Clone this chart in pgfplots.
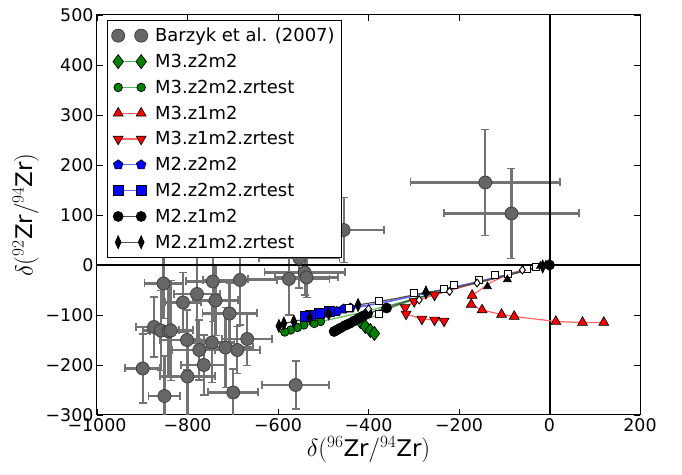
\documentclass[border=0pt]{standalone}
\usepackage{pgfplots}
\pgfplotsset{compat=1.18}
\usepackage{fontspec}
\setmainfont{DejaVu Sans}
\usetikzlibrary{plotmarks}
\definecolor{mgreen}{rgb}{0,0.5,0}
\definecolor{lgreen}{rgb}{0.35,0.72,0.35}
\definecolor{lred}{rgb}{1,0.4,0.4}
\definecolor{lblue}{rgb}{0.4,0.4,1}
\definecolor{mgrey}{rgb}{0.4,0.4,0.4}
\definecolor{ebgrey}{rgb}{0.45,0.45,0.45}

\pgfplotstableread{
x y ex ey
-455 70 90 65
-553 14 89 60
-541 -15 89 45
-537 -25 70 40
-576 -28 90 72
-853 -37 42 70
-744 -33 60 80
-684 -30 82 90
-779 -58 50 90
-810 -75 40 60
-738 -71 50 70
-707 -97 60 60
-874 -124 40 60
-859 -131 40 80
-842 -133 40 90
-837 -131 50 100
-801 -150 60 60
-774 -170 60 60
-746 -155 50 80
-716 -165 60 80
-690 -170 50 47
-668 -148 55 53
-764 -200 50 60
-899 -207 39 69
-800 -223 60 90
-851 -262 35 80
-699 -255 55 47
-561 -240 74 48
-142 165 165 106
-84 103 150 90
}\barzyk

\begin{document}
\begin{tikzpicture}
\begin{axis}[name=ax, scale only axis, width=543bp, height=400bp,
  xmin=-1000, xmax=200, ymin=-300, ymax=500,
  xtick={-1000,-800,...,200}, xticklabels={−1000,−800,−600,−400,−200,0,200},
  ytick={-300,-200,...,500}, yticklabels={−300,−200,−100,0,100,200,300,400,500},
  tick align=inside, tick pos=both, major tick length=6bp,
  tick style={black, line width=0.8bp},
  axis line style={line width=1bp},
  ticklabel style={font=\fontsize{17.5}{20}\selectfont},
  label style={font=\fontsize{23}{26}\selectfont},
  xlabel={$\delta(^{96}$Zr$/^{94}$Zr$)$},
  ylabel={$\delta(^{92}$Zr$/^{94}$Zr$)$},
  xlabel style={yshift=2bp},
  legend cell align=left,
  legend style={at={(0.018,0.987)}, anchor=north west, draw=black, line width=0.8bp,
    font=\fontsize{18}{21}\selectfont, inner xsep=4.5bp, inner ysep=5.5bp,
    row sep=7bp, nodes={inner sep=2bp},
    /tikz/every odd column/.append style={column sep=5.5bp}},
  legend image code/.code={\draw[mark indices={1,3}] plot coordinates {(0bp,0bp) (11.5bp,0bp) (23bp,0bp)};},
]
% Barzyk data
\addplot[only marks, mark=*, mark size=6.5bp,
  mark options={fill=mgrey, draw=black!75, line width=0.8bp},
  error bars/.cd, x dir=both, x explicit, y dir=both, y explicit,
  error bar style={ebgrey, line width=2.2bp},
  error mark options={rotate=90, ebgrey, line width=1.8bp, mark size=4bp}]
  table[x=x, y=y, x error=ex, y error=ey]{\barzyk};
\addlegendentry{Barzyk et al. (2007)}

% zero lines
\addplot[black, line width=2bp, forget plot] coordinates {(-1000,0) (200,0)};
\addplot[black, line width=2bp, forget plot] coordinates {(0,-300) (0,500)};

% M3.z2m2
\addplot[lgreen, line width=1.2bp, mark=diamond*, mark size=7bp,
  mark options={solid, fill=mgreen, draw=black, line width=0.7bp},
  mark indices={9,10,11,12}]
  coordinates {(0,0) (-5,-1) (-50,-11) (-120,-27) (-200,-45) (-280,-64) (-340,-82) (-380,-100) (-418,-113) (-407,-123) (-396,-131) (-387,-137)};
\addlegendentry{M3.z2m2}

% M3.z2m2.zrtest
\addplot[lgreen, line width=1.2bp, mark=*, mark size=4.3bp,
  mark options={solid, fill=mgreen, draw=black, line width=0.7bp},
  mark indices={8,9,10,11,12,13}]
  coordinates {(0,0) (-60,-13) (-150,-33) (-250,-55) (-350,-80) (-420,-96) (-470,-106) (-506,-113) (-520,-117) (-543,-120) (-557,-125) (-572,-130) (-585,-134)};
\addlegendentry{M3.z2m2.zrtest}

% M3.z1m2
\addplot[lred, line width=1.2bp, mark=triangle*, mark size=5.7bp,
  mark options={solid, fill=red, draw=black, line width=0.7bp},
  mark indices={6,7,8,9,10,11,12,13}]
  coordinates {(0,0) (-20,-3) (-50,-8) (-84,-16) (-130,-35) (-171,-61) (-173,-79) (-149,-90) (-106,-99) (-78,-103) (14,-113) (73,-115) (120,-115)};
\addlegendentry{M3.z1m2}

% M3.z1m2.zrtest
\addplot[lred, line width=1.2bp, mark=triangle*, mark size=5.7bp,
  mark options={solid, fill=red, draw=black, line width=0.7bp, rotate=180},
  mark indices={5,6,7,8,9,10,11}]
  coordinates {(0,0) (-40,-8) (-100,-22) (-170,-38) (-254,-60) (-299,-73) (-319,-85) (-317,-98) (-282,-108) (-254,-110) (-233,-112)};
\addlegendentry{M3.z1m2.zrtest}

% M2.z2m2
\addplot[lblue, line width=1.2bp, mark=pentagon*, mark size=5bp,
  mark options={solid, fill=blue, draw=black, line width=0.7bp},
  mark indices={8,9,10,11}]
  coordinates {(0,0) (-50,-10) (-120,-25) (-200,-42) (-280,-58) (-350,-72) (-400,-80) (-440,-86) (-455,-88) (-470,-93) (-490,-96)};
\addlegendentry{M2.z2m2}

% M2.z2m2.zrtest
\addplot[lblue, line width=1.2bp, mark=square*, mark size=5bp,
  mark options={solid, fill=blue, draw=black, line width=0.7bp},
  mark indices={7,8,9,10}]
  coordinates {(0,0) (-60,-12) (-150,-32) (-250,-52) (-350,-72) (-430,-86) (-487,-92) (-509,-97) (-528,-100) (-540,-102)};
\addlegendentry{M2.z2m2.zrtest}

% M2.z1m2
\addplot[black!70, line width=1.2bp, mark=*, mark size=5bp,
  mark options={solid, fill=black, draw=black, line width=0.7bp},
  mark indices={1,6,7,8,9,10,11,12,13,14,15}]
  coordinates {(0,0) (-30,-6) (-100,-22) (-200,-44) (-300,-68) (-360,-86) (-402,-97) (-412,-102) (-422,-107) (-432,-112) (-442,-117) (-452,-121) (-462,-126) (-470,-130) (-476,-133)};
\addlegendentry{M2.z1m2}

% M2.z1m2.zrtest
\addplot[black!70, line width=1.2bp, mark=diamond*, mark size=6.5bp,
  mark options={solid, fill=black, draw=black, line width=0.7bp, xscale=0.6},
  mark indices={1,2,6,8,9,10,11,12,13}]
  coordinates {(0,0) (-15,-3) (-60,-12) (-137,-30) (-220,-48) (-273,-55) (-345,-68) (-423,-80) (-488,-97) (-530,-106) (-565,-113) (-587,-117) (-598,-122)};
\addlegendentry{M2.z1m2.zrtest}

% open markers along the track
\addplot[only marks, mark=square*, mark size=3.5bp, forget plot,
  mark options={fill=white, draw=black, line width=0.9bp}]
  coordinates {(-443,-85) (-378,-72) (-376,-97) (-299,-55) (-234,-48) (-212,-39) (-156,-30) (-121,-20) (-92,-17) (-50,-8) (-30,-4)};
\addplot[only marks, mark=diamond*, mark size=4bp, forget plot,
  mark options={fill=white, draw=black, line width=0.9bp}]
  coordinates {(-221,-53) (-288,-70) (-400,-88) (-160,-36) (-60,-10)};
\addplot[only marks, mark=triangle*, mark size=4.5bp, forget plot,
  mark options={fill=black, draw=black, line width=0.7bp}]
  coordinates {(-137,-43) (-93,-29) (-273,-53) (-20,-2) (-8,0)};
\end{axis}
\path ([shift={(-97bp,-60bp)}]ax.south west) rectangle ([shift={(42bp,15bp)}]ax.north east);
\end{tikzpicture}
\end{document}
